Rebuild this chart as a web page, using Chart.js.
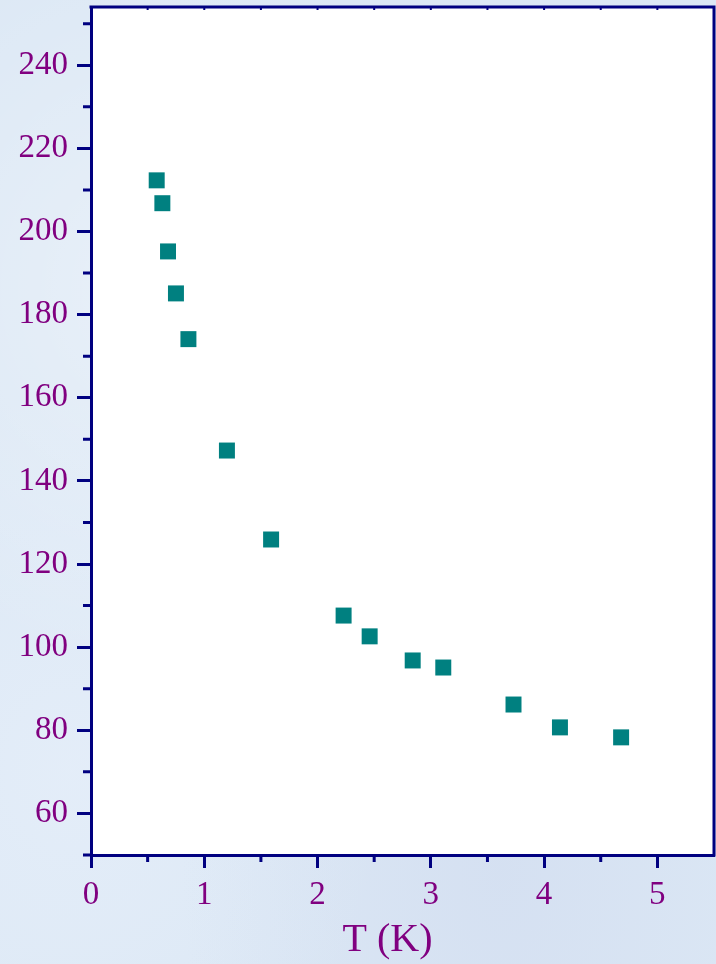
<!DOCTYPE html>
<html>
<head>
<meta charset="utf-8">
<script src="https://cdn.jsdelivr.net/npm/chart.js@4"></script>
<style>
  html, body { margin: 0; padding: 0; }
  body {
    width: 716px; height: 964px; overflow: hidden;
    background-color: #dce8f5;
    background-image:
      radial-gradient(ellipse at 20% 30%, rgba(255,255,255,0.35), rgba(255,255,255,0) 40%),
      radial-gradient(ellipse at 70% 90%, rgba(200,210,235,0.35), rgba(200,210,235,0) 45%),
      radial-gradient(ellipse at 10% 80%, rgba(235,242,252,0.5), rgba(235,242,252,0) 35%);
  }
  #wrap { position: absolute; left: 0; top: 0; width: 716px; height: 964px; }
</style>
</head>
<body>
<div id="wrap"><canvas id="c" width="716" height="964"></canvas></div>
<script>
// Data
const temperatureK = [0.58, 0.63, 0.68, 0.75, 0.86, 1.20, 1.59, 2.23, 2.46, 2.84, 3.11, 3.73, 4.14, 4.68];
const values       = [212.3, 206.8, 195.2, 185.1, 174.1, 147.3, 125.9, 107.6, 102.6, 96.8, 95.1, 86.2, 80.7, 78.3];
const xTickValues  = [0, 1, 2, 3, 4, 5];
const yTickValues  = [60, 80, 100, 120, 140, 160, 180, 200, 220, 240];
const xMinorValues = [0.5, 1.5, 2.5, 3.5, 4.5];
const yMinorValues = [70, 90, 110, 130, 150, 170, 190, 210, 230, 250];
const xTitle = 'T (K)';

const NAVY = '#000080';
const PURPLE = '#800080';
const TEAL = '#008080';

const points = temperatureK.map((t, i) => ({ x: t, y: values[i] }));

const framePlugin = {
  id: 'frame',
  beforeDraw(chart) {
    const { ctx, chartArea: a } = chart;
    ctx.save();
    ctx.fillStyle = '#ffffff';
    ctx.fillRect(a.left, a.top, a.right - a.left, a.bottom - a.top);
    ctx.restore();
  },
  afterDraw(chart) {
    const { ctx, chartArea: a, scales } = chart;
    ctx.save();
    ctx.strokeStyle = NAVY;
    ctx.lineWidth = 3;
    // top and right borders
    ctx.beginPath();
    ctx.moveTo(a.left - 1.5, a.top);
    ctx.lineTo(a.right, a.top);
    ctx.lineTo(a.right, a.bottom + 1.5);
    ctx.stroke();
    // extension of bottom axis line to the left
    ctx.beginPath();
    ctx.moveTo(a.left - 8, a.bottom);
    ctx.lineTo(a.left, a.bottom);
    ctx.stroke();
    // minor ticks
    ctx.beginPath();
    yMinorValues.forEach(v => {
      const y = scales.y.getPixelForValue(v);
      ctx.moveTo(a.left - 8, y);
      ctx.lineTo(a.left, y);
    });
    xMinorValues.forEach(v => {
      const x = scales.x.getPixelForValue(v);
      ctx.moveTo(x, a.bottom);
      ctx.lineTo(x, a.bottom + 7);
    });
    ctx.stroke();
    // small top ticks
    ctx.lineWidth = 2;
    ctx.beginPath();
    xMinorValues.concat(xTickValues).forEach(v => {
      const x = scales.x.getPixelForValue(v);
      if (x > a.left + 2 && x < a.right - 2) {
        ctx.moveTo(x, a.top);
        ctx.lineTo(x, a.top + 3);
      }
    });
    ctx.stroke();
    ctx.restore();
  }
};

new Chart(document.getElementById('c'), {
  type: 'scatter',
  data: {
    datasets: [{
      data: points,
      pointStyle: 'rect',
      pointRadius: 11.3,
      pointHoverRadius: 11.3,
      backgroundColor: TEAL,
      borderColor: TEAL,
      borderWidth: 0
    }]
  },
  options: {
    responsive: false,
    animation: false,
    events: [],
    layout: { autoPadding: false, padding: { top: 7, right: 2, left: 0, bottom: 0 } },
    plugins: { legend: { display: false }, tooltip: { enabled: false } },
    scales: {
      x: {
        type: 'linear',
        position: 'bottom',
        min: 0,
        max: 5.5,
        afterBuildTicks: s => { s.ticks = xTickValues.map(v => ({ value: v })); },
        afterFit: s => { s.height = 109; s.paddingLeft = 0; s.paddingRight = 0; },
        border: { display: true, color: NAVY, width: 3 },
        grid: { drawOnChartArea: false, drawTicks: true, tickLength: 13, tickWidth: 3, tickColor: NAVY, color: NAVY },
        ticks: {
          color: PURPLE,
          padding: 8,
          maxRotation: 0,
          font: { family: '"Liberation Serif", "Times New Roman", serif', size: 33 }
        },
        title: {
          display: true,
          text: xTitle + '   ',
          color: PURPLE,
          padding: { top: 0, bottom: 0 },
          font: { family: '"Liberation Serif", "Times New Roman", serif', size: 40 }
        }
      },
      y: {
        type: 'linear',
        position: 'left',
        min: 50,
        max: 254,
        afterBuildTicks: s => { s.ticks = yTickValues.map(v => ({ value: v })); },
        afterFit: s => { s.width = 91; s.paddingTop = 0; s.paddingBottom = 0; },
        border: { display: true, color: NAVY, width: 3 },
        grid: { drawOnChartArea: false, drawTicks: true, tickLength: 14, tickWidth: 3, tickColor: NAVY, color: NAVY },
        ticks: {
          color: PURPLE,
          padding: 9,
          font: { family: '"Liberation Serif", "Times New Roman", serif', size: 33 }
        }
      }
    }
  },
  plugins: [framePlugin]
});
</script>
</body>
</html>
